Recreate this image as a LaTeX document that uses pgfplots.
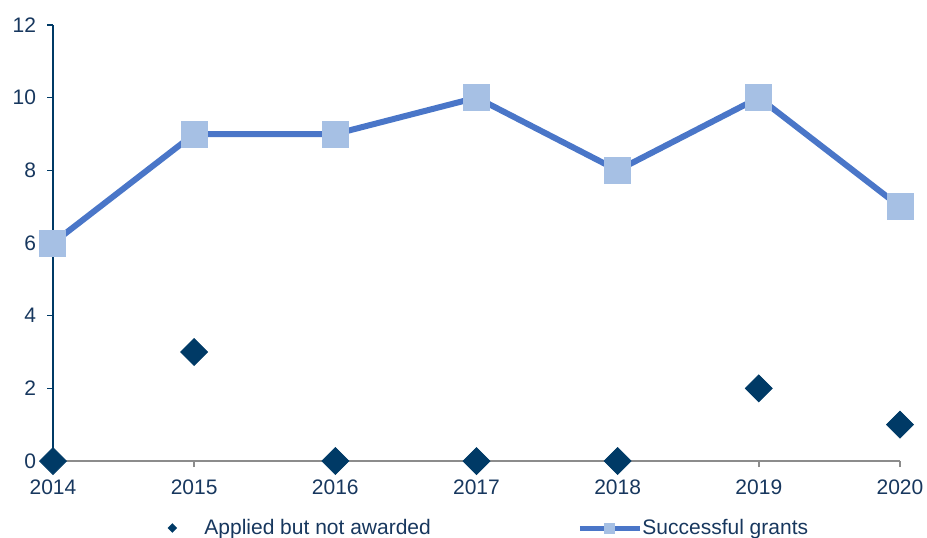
\documentclass[border=0pt]{standalone}
\usepackage{fontspec}
\setmainfont{Liberation Sans}
\usepackage{pgfplots}
\pgfplotsset{compat=1.18}
\definecolor{navy}{HTML}{003A66}
\definecolor{textnavy}{HTML}{17375E}
\definecolor{lineblue}{HTML}{4A76C8}
\definecolor{sqblue}{HTML}{A6C0E4}
\definecolor{axgray}{HTML}{8C8C8C}

\begin{document}
\begin{tikzpicture}[font=\fontsize{10.5}{12.6}\selectfont]
\begin{axis}[
    scale only axis,
    width=423.5pt, height=218pt,
    set layers, clip=false,
    xmin=2014, xmax=2020, ymin=0, ymax=12,
    xtick={2014,2015,...,2020}, ytick={0,2,...,12},
    /pgf/number format/1000 sep={},
    /pgf/number format/assume math mode=true,
    axis x line=bottom, axis y line=left,
    x axis line style={axgray, line width=1pt, -},
    y axis line style={navy, line width=1pt, -},
    tick align=outside, major tick length=3pt,
    x tick style={axgray, line width=0.8pt},
    y tick style={navy, line width=0.8pt},
    tick label style={text=textnavy},
    x tick label style={yshift=-3pt},
    y tick label style={xshift=-2pt},
    legend columns=-1,
    legend style={at={(axis description cs:0,0)}, anchor=west, yshift=-33.5pt,
        draw=none, fill=none, inner sep=0pt,
        nodes={inner sep=0pt, text=textnavy}},
]
% applied but not awarded
\addplot[only marks, mark=square*, mark size=4.75pt,
    mark options={rotate=45, fill=navy, draw=navy},
    legend image code/.code={
        \path[draw=none] (0pt,0pt) -- (75.5pt,0pt);
        \path[draw=none, fill=navy] (59.5pt,2.4pt) -- (61.9pt,0pt) -- (59.5pt,-2.4pt) -- (57.1pt,0pt) -- cycle;
    }]
coordinates {(2014,0) (2015,3) (2016,0) (2017,0) (2018,0) (2019,2) (2020,1)};
\addlegendentry{Applied but not awarded}
% successful grants
\addplot[lineblue, line width=3pt, mark=square*, mark size=6.5pt,
    mark options={fill=sqblue, draw=sqblue, line width=0pt},
    legend image code/.code={
        \path[draw=none] (-74.5pt,0pt) -- (30pt,0pt);
        \path[draw=lineblue, line width=2.5pt] (0pt,0pt) -- (30pt,0pt);
        \path[draw=none, fill=sqblue] (12.25pt,-2.75pt) rectangle (17.75pt,2.75pt);
    }]
coordinates {(2014,6) (2015,9) (2016,9) (2017,10) (2018,8) (2019,10) (2020,7)};
\addlegendentry{Successful grants}
\end{axis}
\pgfresetboundingbox
\path[use as bounding box] (-26.5pt,-38pt) rectangle (437pt,230.5pt);
\end{tikzpicture}
\end{document}
